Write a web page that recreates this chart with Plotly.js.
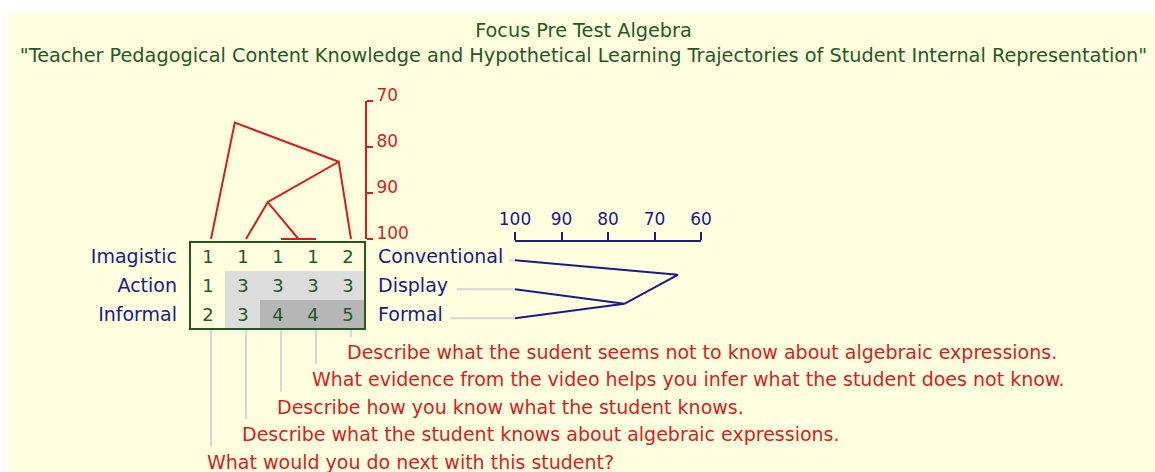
<!DOCTYPE html>
<html>
<head>
<meta charset="utf-8">
<script src="https://cdn.plot.ly/plotly-3.0.1.min.js"></script>
<style>
  html, body { margin: 0; padding: 0; background: #ffffff; }
  #chart { width: 1155px; height: 472px; }
</style>
</head>
<body>
<div id="chart"></div>
<script>
// ---- Data ----------------------------------------------------------------
const columnQuestions = [
  "What would you do next with this student?",
  "Describe what the student knows about algebraic expressions.",
  "Describe how you know what the student knows.",
  "What evidence from the video helps you infer what the student does not know.",
  "Describe what the sudent seems not to know about algebraic expressions."
];
const rowLabelsLeft = ["Imagistic", "Action", "Informal"];
const rowLabelsRight = ["Conventional", "Display", "Formal"];

const scoreImagistic = [1, 1, 1, 1, 2];
const scoreAction    = [1, 3, 3, 3, 3];
const scoreInformal  = [2, 3, 4, 4, 5];

// Column clustering: leaves 0-4, merges numbered 5..8
const colMergeA     = [2, 1, 6, 0];
const colMergeB     = [3, 5, 4, 7];
const colMergeLevel = [100, 92, 83.2, 74.7];
const colMergePos   = [2.5, 1.62, 3.65, 0.68];
const colLeafLevel  = 100;
const colAxisTicks  = [70, 80, 90, 100];

// Row clustering: leaves 0-2, merges numbered 3..4
const rowMergeA     = [1, 0];
const rowMergeB     = [2, 3];
const rowMergeLevel = [76.5, 65];
const rowMergePos   = [1.5, 0.5];
const rowLeafLevel  = 100;
const rowAxisTicks  = [100, 90, 80, 70, 60];

// ---- Styling -------------------------------------------------------------
const W = 1155, H = 472;
const fx = px => px / W;
const fy = py => 1 - py / H;

const FONT = "DejaVu Sans";
const GREEN = "#1f5a1f";
const NAVY = "#1a1a8a";
const RED = "#d81c1c";
const BG = "#ffffe0";
const LIGHT_LINE = "#d6d6d6";

const stemShift = 0.1;   // stems sit slightly right of the cell centres
const rowShift = 0.13;   // row links sit slightly below the row centres

// Build the polyline for a dendrogram (child -> parent -> child per merge)
function dendroSegments(nLeaves, mergeA, mergeB, level, pos, leafLevel) {
  const nodePos = i => (i < nLeaves ? i : pos[i - nLeaves]);
  const nodeLev = i => (i < nLeaves ? leafLevel : level[i - nLeaves]);
  const p = [], l = [];
  mergeA.forEach((a, k) => {
    const b = mergeB[k];
    p.push(nodePos(a), pos[k], nodePos(b), null);
    l.push(nodeLev(a), level[k], nodeLev(b), null);
  });
  return { p, l };
}

const colTree = dendroSegments(5, colMergeA, colMergeB, colMergeLevel, colMergePos, colLeafLevel);
const rowTree = dendroSegments(3, rowMergeA, rowMergeB, rowMergeLevel, rowMergePos, rowLeafLevel);

// question rows run bottom-up: first column's question is lowest
const nQ = columnQuestions.length;
const qRow = c => nQ - 1 - c;

// light stems from the matrix down to each question
const stemX = [], stemY = [];
const qTop = -0.839;
columnQuestions.forEach((q, c) => {
  stemX.push(c + stemShift, c + stemShift, null);
  stemY.push(qTop, qRow(c) - 0.55, null);
});

const traces = [
  {
    type: "heatmap",
    z: [scoreImagistic, scoreAction, scoreInformal],
    x: [0, 1, 2, 3, 4],
    y: [0, 1, 2],
    zmin: 1, zmax: 5,
    colorscale: [[0, BG], [0.375, BG], [0.375, "#dcdcdc"], [0.625, "#dcdcdc"], [0.625, "#b6b6b6"], [1, "#b6b6b6"]],
    showscale: false,
    texttemplate: "%{z}",
    textfont: { family: FONT, size: 18, color: GREEN },
    hoverinfo: "skip",
    xaxis: "x", yaxis: "y"
  },
  {
    type: "scatter", mode: "lines",
    x: colTree.p.map(v => (v === null ? null : v + stemShift)),
    y: colTree.l,
    line: { color: RED, width: 2 },
    xaxis: "x", yaxis: "y2",
    hoverinfo: "skip", showlegend: false
  },
  {
    type: "scatter", mode: "lines",
    x: rowTree.l,
    y: rowTree.p.map(v => (v === null ? null : v + rowShift)),
    line: { color: NAVY, width: 2 },
    xaxis: "x3", yaxis: "y",
    hoverinfo: "skip", showlegend: false
  },
  {
    type: "scatter", mode: "lines",
    x: stemX, y: stemY,
    line: { color: LIGHT_LINE, width: 2 },
    xaxis: "x", yaxis: "y3",
    hoverinfo: "skip", showlegend: false
  },
  {
    type: "scatter", mode: "lines", x: [], y: [],
    xaxis: "x", yaxis: "y4", hoverinfo: "skip", showlegend: false
  }
];

// gray leaders from the right-hand labels to the row tree
const leaderStartPx = [509, 457, 450];
const leaderShapes = rowLabelsRight.map((lab, r) => ({
  type: "line", xref: "paper", yref: "y",
  x0: fx(leaderStartPx[r]), x1: fx(515),
  y0: r + rowShift, y1: r + rowShift,
  line: { color: LIGHT_LINE, width: 2 }
}));

const questionAnnotations = columnQuestions.map((q, c) => ({
  text: q, xref: "x", yref: "y3",
  x: c - 0.08, y: qRow(c),
  xanchor: "left", yanchor: "middle",
  showarrow: false,
  font: { family: FONT, size: 19, color: RED }
}));

const redTopPx = 101, red100Px = 239;
const redPxPerUnit = (red100Px - redTopPx) / 30;

const layout = {
  width: W, height: H,
  margin: { l: 0, r: 0, t: 0, b: 0 },
  paper_bgcolor: "#ffffff",
  plot_bgcolor: "rgba(0,0,0,0)",
  font: { family: FONT, color: GREEN },
  showlegend: false,
  hovermode: false,
  title: {
    text: "Focus Pre Test Algebra<br>\"Teacher Pedagogical Content Knowledge and Hypothetical Learning Trajectories of Student Internal Representation\"",
    font: { family: FONT, size: 19.3, color: GREEN },
    x: 0.5052, xanchor: "center",
    xref: "paper", yref: "paper",
    y: fy(37), yanchor: "top"
  },
  xaxis: {
    domain: [fx(190), fx(365)], range: [-0.5, 4.5],
    anchor: "y", showticklabels: false, showgrid: false, zeroline: false, ticks: ""
  },
  yaxis: {
    domain: [fy(329), fy(242)], range: [2.5, -0.5], anchor: "x",
    tickvals: [0, 1, 2], ticktext: rowLabelsLeft,
    tickfont: { family: FONT, size: 19, color: NAVY },
    ticks: "", ticklabelstandoff: 12,
    showgrid: false, zeroline: false
  },
  yaxis4: {
    overlaying: "y", side: "right", anchor: "x",
    range: [2.5, -0.5],
    tickvals: [0, 1, 2], ticktext: rowLabelsRight,
    tickfont: { family: FONT, size: 19, color: NAVY },
    ticks: "", ticklabelstandoff: 12,
    showgrid: false, zeroline: false
  },
  yaxis2: {
    domain: [fy(red100Px + redPxPerUnit), fy(redTopPx)],
    range: [101, 70],
    anchor: "free", position: fx(366), side: "right",
    tickvals: colAxisTicks,
    ticks: "outside", ticklen: 6, tickwidth: 2, tickcolor: RED,
    tickfont: { family: FONT, size: 17, color: RED },
    ticklabelposition: "outside",
    ticklabelshift: 6,
    ticklabelstandoff: 0,
    showline: false, showgrid: false, zeroline: false
  },
  xaxis3: {
    domain: [fx(515), fx(701)], range: [100, 60],
    anchor: "y", side: "top",
    tickvals: rowAxisTicks,
    ticks: "outside", ticklen: 8, tickwidth: 2, tickcolor: NAVY,
    showline: true, linecolor: NAVY, linewidth: 2,
    tickfont: { family: FONT, size: 17, color: NAVY },
    showgrid: false, zeroline: false
  },
  yaxis3: {
    domain: [0, fy(329)], range: [4.38, qTop],
    anchor: "x", visible: false
  },
  shapes: [
    {
      type: "rect", layer: "below", xref: "paper", yref: "paper",
      x0: fx(8), x1: 1, y0: 0, y1: fy(13),
      fillcolor: BG, line: { width: 0 }
    },
    {
      type: "rect", xref: "x domain", yref: "y domain",
      x0: 0, x1: 1, y0: 0, y1: 1,
      line: { color: GREEN, width: 2 }
    },
    {
      type: "line", xref: "paper", yref: "y2",
      x0: fx(366), x1: fx(366), y0: 70, y1: 100,
      line: { color: RED, width: 2 }
    },
    ...leaderShapes
  ],
  annotations: questionAnnotations
};

Plotly.newPlot("chart", traces, layout, { staticPlot: true, displayModeBar: false });
</script>
</body>
</html>
